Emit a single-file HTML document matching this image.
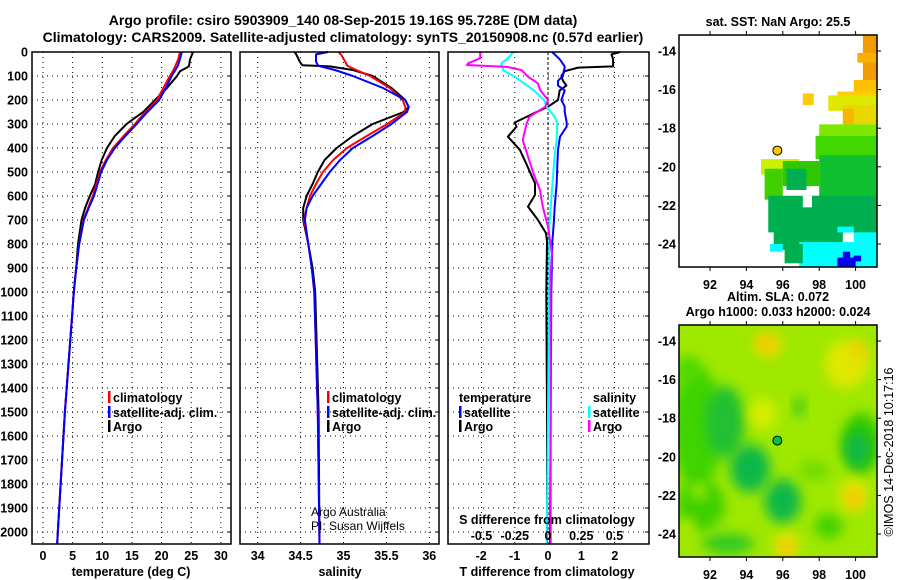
<!DOCTYPE html>
<html><head><meta charset="utf-8"><style>
html,body{margin:0;padding:0;background:#fff;}
svg{display:block;font-family:"Liberation Sans",sans-serif;font-weight:bold;}
</style></head><body>
<svg id="fig" width="900" height="580" viewBox="0 0 900 580" xmlns="http://www.w3.org/2000/svg">
<defs>
<filter id="blur" x="-50%" y="-50%" width="200%" height="200%"><feGaussianBlur stdDeviation="6"/></filter>
<clipPath id="clipMap2"><rect x="679" y="325" width="198" height="232"/></clipPath>
</defs>
<text x="343" y="25" font-size="14" text-anchor="middle">Argo profile: csiro 5903909_140 08-Sep-2015 19.16S 95.728E (DM data)</text>
<text x="343" y="42" font-size="14" text-anchor="middle">Climatology: CARS2009. Satellite-adjusted climatology: synTS_20150908.nc (0.57d earlier)</text>
<g id="plots"></g>
<g id="maps"></g>
</svg>
<script>
// ---------- data ----------
const tDepth = [0,30,60,80,100,150,200,250,280,300,350,400,450,500,550,600,650,700,800,900,1000,1100,1500,2000,2050];
const tArgo  = [25.3,24.8,24.6,23.1,22.6,20.9,18.9,16.9,15.2,14.1,12.1,10.8,9.9,9.3,8.8,7.9,7.1,6.5,5.9,5.6,5.2,4.9,3.7,2.5,2.4];
const tClim  = [23.1,22.8,22.3,21.9,21.4,20.3,19.2,17.3,16.2,15.5,13.6,11.8,10.6,9.6,9.0,8.4,7.6,6.8,6.1,5.6,5.2,4.9,3.7,2.5,2.4];
const tSat   = [23.4,23.1,22.7,22.2,21.7,20.7,19.6,17.6,16.5,15.8,13.9,12.1,10.8,9.8,9.2,8.6,7.7,6.9,6.1,5.6,5.2,4.9,3.7,2.5,2.4];

const sDepth = [0,10,40,55,60,75,100,150,200,230,250,300,350,400,450,500,550,600,650,700,800,900,1000,1500,2050];
const sArgo  = [34.43,34.45,34.49,34.52,34.84,35.11,35.34,35.56,35.72,35.76,35.70,35.34,35.11,34.92,34.78,34.70,34.64,34.57,34.53,34.53,34.59,34.64,34.67,34.71,34.72];
const sClim  = [34.94,34.97,35.02,35.04,35.06,35.15,35.31,35.54,35.69,35.72,35.72,35.51,35.27,35.04,34.88,34.76,34.68,34.61,34.57,34.54,34.59,34.63,34.66,34.70,34.72];
const sSat   = [34.82,34.68,34.68,34.70,34.73,34.90,35.11,35.46,35.72,35.76,35.74,35.56,35.34,35.11,34.96,34.84,34.74,34.64,34.57,34.55,34.59,34.63,34.66,34.70,34.72];

const dtDepth = [0,10,30,60,65,80,100,120,140,160,200,228,249,294,311,353,408,463,547,596,644,700,755,790,1000,1500,2050];
const dtArgo  = [2.16,1.9,1.95,1.95,0.9,0.5,0.4,0.45,0.55,0.35,0.3,0.0,-0.33,-1.0,-0.94,-1.2,-0.84,-0.66,-0.39,-0.39,-0.6,-0.3,-0.06,-0.03,-0.05,-0.03,-0.03];
const dtSat   = [0.12,0.2,0.35,0.5,0.5,0.47,0.45,0.3,0.3,0.5,0.4,0.5,0.5,0.56,0.56,0.36,0.3,0.28,0.26,0.23,0.2,0.18,0.15,0.13,0.1,0.08,0.06];

const dsDepth = [0,26,47,54,62,75,103,131,158,200,228,270,297,367,436,505,575,644,728,838,922,1500,2050];
const dsArgo  = [-0.51,-0.51,-0.6,-0.61,-0.31,-0.2,-0.15,-0.075,-0.06,0.0,-0.02,-0.14,-0.16,-0.19,-0.15,-0.11,-0.06,-0.04,0.0,0.03,0.02,0.02,0.02];
const dsSat   = [-0.26,-0.3,-0.35,-0.35,-0.34,-0.34,-0.25,-0.18,-0.11,-0.03,-0.01,0.05,0.07,0.065,0.05,0.04,0.03,0.02,0.01,0.01,0.01,0.0,-0.01];

const depthTicks = [0,100,200,300,400,500,600,700,800,900,1000,1100,1200,1300,1400,1500,1600,1700,1800,1900,2000];
const tTicks = [0,5,10,15,20,25,30];
const sTicks = [34,34.5,35,35.5,36];
const dtTicks = [-2,-1,0,1,2];
const dsTicks = [-0.5,-0.25,0,0.25,0.5];
const dsTickLabels = ["-0.5","-0.25","0","0.25","0.5"];
const lonTicks = [92,94,96,98,100];
const latTicks = [-14,-16,-18,-20,-22,-24];

// ---------- scales ----------
const NS="http://www.w3.org/2000/svg";
const yD = d => 52 + d*0.24;
const xT = v => 43 + v*5.93;
const xS = v => 257.7 + (v-34)*85.8;
const xDT = v => 548 + v*33.4;
const xDS = v => 548 + v*133;
const mx = lon => 710 + (lon-92)*18.2;
const myTop = lat => 51 + (-14-lat)*19.3;
const myBot = lat => 341 + (-14-lat)*19.3;

function el(tag, attrs, parent, txt){
  const e=document.createElementNS(NS,tag);
  for(const k in attrs) e.setAttribute(k,attrs[k]);
  if(txt!==undefined) e.textContent=txt;
  parent.appendChild(e); return e;
}
const plots=document.getElementById('plots');
const panels=[{x0:32,x1:231,name:'temperature-panel'},{x0:240,x1:439,name:'salinity-panel'},{x0:448,x1:649,name:'difference-panel'}];

panels.forEach((p,i)=>{
  const g=el('g',{},plots);
  
  
  depthTicks.forEach(d=>{
    if(d===0) return;
    const l=el('line',{x1:p.x0,x2:p.x1,y1:yD(d),y2:yD(d),stroke:'#000','stroke-width':1,'stroke-dasharray':'1,4'},g);
    
    
    el('line',{x1:p.x1-4,x2:p.x1,y1:yD(d),y2:yD(d),stroke:'#000'},g);
  });
});
depthTicks.forEach(d=>{
  const t=el('text',{x:28,y:yD(d)+4.5,'font-size':12.5,'text-anchor':'end'},plots,String(d));
  
  
});
function vgrid(vals,fx,dash){
  vals.forEach(v=>{
    const l=el('line',{x1:fx(v),x2:fx(v),y1:52,y2:544,stroke:'#000','stroke-dasharray':dash||'1,4'},plots);
    
    
  });
}
vgrid(tTicks,xT); vgrid(sTicks,xS);
vgrid(dsTicks.filter(v=>v!==0),xDS); vgrid([0],xDS,'3,2');

function series(depths,vals,fx,color,name,w){
  const pts=depths.map((d,i)=>fx(vals[i]).toFixed(1)+','+yD(d).toFixed(1)).join(' ');
  const pl=el('polyline',{points:pts,fill:'none',stroke:color,'stroke-width':w||2,'stroke-linejoin':'round'},plots);
  
  
}
series(tDepth,tArgo,xT,'#000','temp-argo-line');
series(tDepth,tClim,xT,'#ff0000','temp-climatology-line');
series(tDepth,tSat,xT,'#0000ff','temp-satellite-line');
series(sDepth,sArgo,xS,'#000','sal-argo-line');
series(sDepth,sClim,xS,'#ff0000','sal-climatology-line');
series(sDepth,sSat,xS,'#0000ff','sal-satellite-line');
series(dtDepth,dtArgo,xDT,'#000','tdiff-argo-line');
series(dtDepth,dtSat,xDT,'#0000ff','tdiff-satellite-line');
series(dsDepth,dsSat,xDS,'#00ffff','sdiff-satellite-line');
series(dsDepth,dsArgo,xDS,'#ff00ff','sdiff-argo-line');

panels.forEach(p=>{
  const r=el('rect',{x:p.x0,y:52,width:p.x1-p.x0,height:492,fill:'none',stroke:'#000','stroke-width':1.5},plots);
  
  
});
function xlabels(vals,labels,fx,y,name){
  vals.forEach((v,i)=>{
    const t=el('text',{x:fx(v),y:y,'font-size':12.5,'text-anchor':'middle'},plots,labels[i]);
    
    
  });
}
xlabels(tTicks,tTicks.map(String),xT,560,'temp-tick-label');
xlabels(sTicks,sTicks.map(String),xS,560,'sal-tick-label');
xlabels(dtTicks,dtTicks.map(String),xDT,560,'tdiff-tick-label');
xlabels(dsTicks,dsTickLabels,xDS,540,'sdiff-tick-label');

function txt(x,y,s,name,size,anchor,weight){
  const t=el('text',{x:x,y:y,'font-size':size||12.5,'text-anchor':anchor||'start'},plots,s);
  if(weight) t.setAttribute('font-weight',weight);
  
  
  return t;
}
txt(131,576,'temperature (deg C)','temp-x-axis-title',12.5,'middle');
txt(340,576,'salinity','sal-x-axis-title',12.5,'middle');
txt(547,576,'T difference from climatology','tdiff-x-axis-title',12.5,'middle');
txt(547,524,'S difference from climatology','sdiff-axis-title',12.5,'middle');
txt(311,516,'Argo Australia','credit-argo-australia',12,'start','normal');
txt(311,530,'PI: Susan Wijffels','credit-pi',12,'start','normal');

function legend(x,y,color,label,name){
  const r=el('rect',{x:x,y:y-6,width:2.5,height:12,fill:color},plots);
  
  
  txt(x+5,y+5,label,name,12.5);
}
legend(108,397,'#ff0000','climatology','legend-climatology');
legend(108,412,'#0000ff','satellite-adj. clim.','legend-satellite');
legend(108,426,'#000','Argo','legend-argo');
legend(327,397,'#ff0000','climatology','legend-sal-climatology');
legend(327,412,'#0000ff','satellite-adj. clim.','legend-sal-satellite');
legend(327,426,'#000','Argo','legend-sal-argo');
txt(459,402,'temperature','legend-temperature-heading');
legend(459,412,'#0000ff','satellite','legend-tdiff-satellite');
legend(459,426,'#000','Argo','legend-tdiff-argo');
txt(593,402,'salinity','legend-salinity-heading');
legend(588,412,'#00ffff','satellite','legend-sdiff-satellite');
legend(588,426,'#ff00ff','Argo','legend-sdiff-argo');

// ---------- maps ----------
const maps=document.getElementById('maps');
function mtxt(x,y,s,name,anchor){
  const t=el('text',{x:x,y:y,'font-size':12.5,'text-anchor':anchor||'middle'},maps,s);
  
  
}
mtxt(778,26,'sat. SST: NaN Argo: 25.5','sst-map-title');
mtxt(778,301,'Altim. SLA: 0.072','sla-map-title');
mtxt(778,316,'Argo h1000: 0.033 h2000: 0.024','sla-map-subtitle');

const sstCells=[
 [100.4,-13.2,101.2,-15.7,'#f39c00'],[100.1,-14.1,101.2,-14.6,'#f5b000'],
 [99.9,-15.5,101.2,-16.9,'#fcc000'],[99.0,-16.1,101.2,-17.0,'#fcd000'],
 [98.5,-16.3,101.2,-17.1,'#e0e800'],[99.3,-16.8,101.2,-17.8,'#e8d800'],[99.3,-17.0,99.9,-17.8,'#f5b800'],
 [97.1,-16.2,97.7,-16.8,'#fccc00'],
 [98.0,-17.8,101.2,-18.7,'#80e800'],[97.8,-18.4,101.2,-19.6,'#40d800'],
 [94.8,-19.6,96.9,-20.4,'#ccf000'],[95.0,-20.1,96.0,-21.7,'#40d000'],
 [96.0,-19.7,98.0,-21.0,'#30c800'],[98.0,-19.4,101.2,-21.9,'#10c030'],
 [95.2,-21.5,101.2,-23.4,'#00b050'],[96.2,-20.1,97.3,-21.2,'#00b050'],
 [95.5,-23.2,99.3,-24.3,'#00b050'],[99.0,-23.1,101.2,-23.4,'#00ffff'],
 [96.9,-23.9,101.2,-25.2,'#00ffff'],[99.9,-22.5,101.2,-23.4,'#00b050'],
 [96.1,-24.0,97.1,-25.0,'#00b050'],[95.3,-24.0,96.0,-24.4,'#00ffff'],
 [99.9,-23.4,101.2,-23.9,'#00ffff'],[99.0,-24.7,100.0,-25.2,'#0000ee'],[99.3,-24.4,99.7,-24.7,'#0000ee'],[99.9,-24.6,100.3,-24.9,'#0000ee']
];
sstCells.forEach(c=>{
  const r=el('rect',{x:mx(c[0]),y:myTop(c[1]),width:mx(c[2])-mx(c[0]),height:myTop(c[3])-myTop(c[1]),fill:c[4]},maps);
  
  
});
el('rect',{x:mx(97.1),y:myTop(-21.5),width:mx(97.6)-mx(97.1),height:myTop(-22.1)-myTop(-21.5),fill:'#fff'},maps);
const d1=el('circle',{cx:mx(95.7),cy:myTop(-19.16),r:4.5,fill:'#fcc800',stroke:'#000'},maps);



// SLA map
const slaBg=el('rect',{x:679,y:325,width:198,height:232,fill:'#9fe800'},maps);


const slaG=el('g',{'clip-path':'url(#clipMap2)'},maps);


const slaBlobs=[
 [91.3,-18.5,26,60,'#40d400'],[90.8,-15.5,14,14,'#50d800'],[92.8,-18.2,20,36,'#20c030'],[94.2,-20.6,20,24,'#10b848'],[96.0,-22.3,18,22,'#10b848'],
 [91.5,-22.5,24,26,'#40d000'],[93,-24.5,26,10,'#30c820'],
 [100.3,-19.3,20,30,'#30c800'],[100.1,-19.6,12,18,'#10b848'],
 [96.9,-17.4,5,9,'#20c020'],[97.7,-20.7,16,10,'#70dc00'],[98.5,-23.6,14,12,'#40d000'],
 [95.2,-14.2,14,12,'#eed800'],[95.0,-14.1,6,6,'#f4c000'],
 [99.5,-15.2,22,24,'#e0e800'],[100.2,-14.5,8,10,'#f0d000'],
 [94.9,-17.8,14,16,'#d4ee00'],
 [99.9,-22.0,14,16,'#e8e400'],[99.9,-22.2,7,9,'#f4c000'],
 [96.2,-24.6,12,14,'#e8e000'],[96.2,-24.8,6,7,'#f4c000'],
 [91.4,-21.8,7,7,'#b8ee00'],[90.8,-23.6,6,8,'#c8ee00']
];
slaBlobs.forEach(b=>{
  const e=el('ellipse',{cx:mx(b[0]),cy:myBot(b[1]),rx:b[2],ry:b[3],fill:b[4],filter:'url(#blur)'},slaG);
  
  
});
const d2=el('circle',{cx:mx(95.7),cy:myBot(-19.16),r:4.5,fill:'#00c040',stroke:'#000'},maps);



[[35,'sst'],[325,'sla']].forEach(([top,n])=>{
  const fr=el('rect',{x:679,y:top,width:198,height:232,fill:'none',stroke:'#000','stroke-width':1.5},maps);
  
  
  const my = n==='sst'?myTop:myBot;
  lonTicks.forEach(l=>{
    el('line',{x1:mx(l),x2:mx(l),y1:top-4,y2:top,stroke:'#000'},maps);
    el('line',{x1:mx(l),x2:mx(l),y1:top+232,y2:top+236,stroke:'#000'},maps);
    mtxt(mx(l),top+254,String(l),n+'-lon-tick-label');
  });
  latTicks.forEach(l=>{
    el('line',{x1:877,x2:881,y1:my(l),y2:my(l),stroke:'#000'},maps);
    mtxt(676,my(l)+4.5,String(l),n+'-lat-tick-label','end');
  });
});
const cr=el('text',{x:0,y:0,'font-size':12.5,'font-weight':'normal','text-anchor':'middle',transform:'translate(893,452) rotate(-90)'},maps,'©IMOS 14-Dec-2018 10:17:16');


</script>
</body></html>
